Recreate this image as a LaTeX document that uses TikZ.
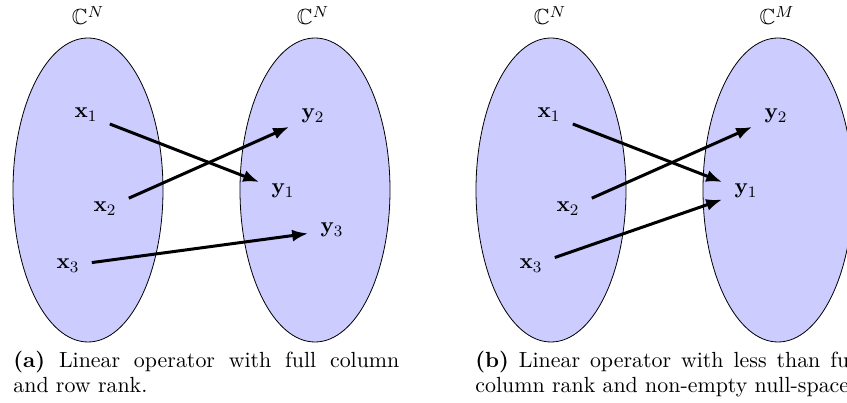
\RequirePackage{fix-cm}
\documentclass[tikz,border=0pt]{standalone}
\usepackage{amssymb}
\usetikzlibrary{arrows.meta}
\begin{document}
\begin{tikzpicture}[x=1pt,y=-1pt,
  space/.style={draw=black,line width=0.8pt,fill=blue!20},
  pt/.style={scale=2,transform shape,inner sep=6pt,anchor=base,font=\fontsize{10.95}{13.6}\selectfont},
  sp/.style={scale=2,transform shape,inner sep=0pt,anchor=base,font=\fontsize{10.95}{13.6}\selectfont},
  map/.style={line width=3pt,-{Latex[length=16pt,width=12pt]}},
  captext/.style={scale=2,transform shape,inner sep=0pt,anchor=base west,text width=193pt,align=justify,font=\fontsize{10.95}{12.5}\selectfont}]
\useasboundingbox (0,0) rectangle (847,403);
\clip (0,0) rectangle (847,403);
\fill[white] (0,0) rectangle (847,403);
% panel (a)
\draw[space] (88,190) ellipse [x radius=75pt, y radius=152pt];
\draw[space] (315,190) ellipse [x radius=75pt, y radius=152pt];
\node[sp] (ca1) at (88,25) {$\mathbb{C}^N$};
\node[sp] (ca2) at (313,25) {$\mathbb{C}^N$};
\node[pt] (ax1) at (86,118) {$\mathbf{x}_1$};
\node[pt] (ax2) at (105,212) {$\mathbf{x}_2$};
\node[pt] (ax3) at (68,269) {$\mathbf{x}_3$};
\node[pt] (ay1) at (283,194) {$\mathbf{y}_1$};
\node[pt] (ay2) at (313,119) {$\mathbf{y}_2$};
\node[pt] (ay3) at (332,233) {$\mathbf{y}_3$};
\draw[map] (ax1) -- (ay1);
\draw[map] (ax2) -- (ay2);
\draw[map] (ax3) -- (ay3);
\node[captext] (capa) at (13,368) {\textbf{(a)} Linear operator with full column\linebreak and row rank.};
% panel (b)
\draw[space] (551,190) ellipse [x radius=75pt, y radius=152pt];
\draw[space] (778,190) ellipse [x radius=75pt, y radius=152pt];
\node[sp] (cb1) at (550,25) {$\mathbb{C}^N$};
\node[sp] (cb2) at (777,25) {$\mathbb{C}^M$};
\node[pt] (bx1) at (549,118) {$\mathbf{x}_1$};
\node[pt] (bx2) at (568,212) {$\mathbf{x}_2$};
\node[pt] (bx3) at (531,269) {$\mathbf{x}_3$};
\node[pt] (by1) at (746,194) {$\mathbf{y}_1$};
\node[pt] (by2) at (776,119) {$\mathbf{y}_2$};
\draw[map] (bx1) -- (by1);
\draw[map] (bx2) -- (by2);
\draw[map] (bx3) -- (by1);
\node[captext] (capb) at (475,368) {\textbf{(b)} Linear operator with less than full\linebreak column rank and non-empty null-space.};
\end{tikzpicture}
\end{document}
